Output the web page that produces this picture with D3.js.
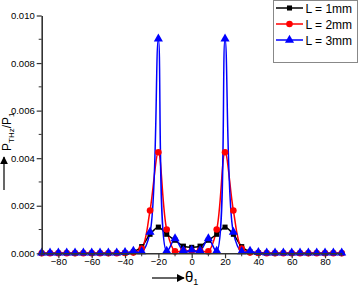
<!DOCTYPE html>
<html>
<head>
<meta charset="utf-8">
<script src="https://cdn.jsdelivr.net/npm/d3@7"></script>
<style>
  body { margin: 0; background: #fff; }
  svg { display: block; font-family: "Liberation Sans", Arial, sans-serif; }
</style>
</head>
<body>
<svg id="chart" width="358" height="288"></svg>
<script>
// Angulos (grados) cada 5
const angulos = [-90, -85, -80, -75, -70, -65, -60, -55, -50, -45, -40, -35, -30, -25, -20, -15, -10, -5, 0,
                 5, 10, 15, 20, 25, 30, 35, 40, 45, 50, 55, 60, 65, 70, 75, 80, 85, 90];

// P_THz/P_1 para cada longitud
const serieL1 = [0, 0, 0, 0, 0, 0, 0, 0, 0, 0, 0.00002, 0.00006, 0.00028, 0.0008, 0.0011, 0.0008, 0.00055, 0.0003, 0.00025,
                 0.0003, 0.00055, 0.0008, 0.0011, 0.0008, 0.00028, 0.00006, 0.00002, 0, 0, 0, 0, 0, 0, 0, 0, 0, 0];
const serieL2 = [0, 0, 0, 0, 0, 0, 0, 0, 0, 0, 0.00001, 0.00003, 0.0002, 0.0018, 0.00425, 0.001, 0.00008, 0.00012, 0.0001,
                 0.00012, 0.00008, 0.001, 0.00425, 0.0018, 0.0002, 0.00003, 0.00001, 0, 0, 0, 0, 0, 0, 0, 0, 0, 0];
const serieL3 = [0, 0, 0, 0, 0, 0, 0, 0, 0, 0, 0.00002, 0.00008, 0.00005, 0.00087, 0.009, 0.00008, 0.0006, 0.0001, 0.00012,
                 0.0001, 0.0006, 0.00008, 0.009, 0.00087, 0.00005, 0.00008, 0.00002, 0, 0, 0, 0, 0, 0, 0, 0, 0, 0];

const nombresSeries = ['L = 1mm', 'L = 2mm', 'L = 3mm'];
const coloresSeries = ['#000000', '#ff0000', '#0000ff'];
const simbolosSeries = [d3.symbolSquare, d3.symbolCircle, d3.symbolTriangle];

// Ticks
const ticksX = [-80, -60, -40, -20, 0, 20, 40, 60, 80];
const ticksXMenores = [-90, -70, -50, -30, -10, 10, 30, 50, 70, 90];
const ticksY = [0, 0.002, 0.004, 0.006, 0.008, 0.010];
const ticksYMenores = [0.001, 0.003, 0.005, 0.007, 0.009];

const svg = d3.select("#chart");

const x = d3.scaleLinear().domain([-90, 90]).range([41.7, 341.7]);
const y = d3.scaleLinear().domain([0, 0.010]).range([253.3, 15.5]);

// clip del area de graficos
svg.append("defs").append("clipPath").attr("id", "clip")
  .append("rect")
  .attr("x", x(-90)).attr("y", 0)
  .attr("width", x(90) - x(-90) + 6).attr("height", y(0));

const series = [serieL1, serieL2, serieL3];

const linea = d3.line()
  .x((d, i) => x(angulos[i]))
  .y(d => y(d))
  .curve(d3.curveCatmullRom.alpha(0.5));

const gSeries = svg.append("g").attr("clip-path", "url(#clip)");

series.forEach((valores, s) => {
  gSeries.append("path")
    .datum(valores)
    .attr("fill", "none")
    .attr("stroke", coloresSeries[s])
    .attr("stroke-width", 1.5)
    .attr("d", linea);
});

series.forEach((valores, s) => {
  const tam = s === 2 ? 36 : (s === 1 ? 34 : 26);
  svg.append("g")
    .selectAll("path")
    .data(valores)
    .join("path")
    .attr("transform", (d, i) => `translate(${x(angulos[i])},${y(d) + (s === 2 ? -0.5 : 0)})`)
    .attr("d", d3.symbol().type(simbolosSeries[s]).size(tam))
    .attr("fill", coloresSeries[s]);
});

// Ejes
const ejeX = svg.append("g")
  .attr("transform", `translate(0,${y(0)})`)
  .call(d3.axisBottom(x).tickValues(ticksX).tickFormat(d3.format("d")).tickSize(5).tickSizeOuter(0));
ejeX.append("g")
  .selectAll("line")
  .data(ticksXMenores)
  .join("line")
  .attr("x1", d => x(d)).attr("x2", d => x(d))
  .attr("y1", 0).attr("y2", 3)
  .attr("stroke", "#333");

const ejeY = svg.append("g")
  .attr("transform", `translate(${x(-90)},0)`)
  .call(d3.axisLeft(y).tickValues(ticksY).tickFormat(d3.format(".3f")).tickSize(5).tickSizeOuter(0));
ejeY.append("g")
  .selectAll("line")
  .data(ticksYMenores)
  .join("line")
  .attr("y1", d => y(d)).attr("y2", d => y(d))
  .attr("x1", 0).attr("x2", -3)
  .attr("stroke", "#333");

[ejeX, ejeY].forEach(g => {
  g.select(".domain").attr("stroke", "#333").attr("stroke-width", 1.6);
  g.selectAll(".tick line").attr("stroke", "#333").attr("stroke-width", 1.2);
  g.selectAll(".tick text").attr("font-size", "9.5px").attr("fill", "#000")
    .attr("font-family", "'Liberation Sans', Arial, sans-serif");
});
ejeX.selectAll(".tick text").attr("dy", "0.4em").attr("y", 8);
ejeY.selectAll(".tick text").attr("x", -7);

// Flechas de etiquetas
svg.append("defs").append("marker")
  .attr("id", "flecha")
  .attr("viewBox", "0 0 10 10")
  .attr("refX", 9).attr("refY", 5)
  .attr("markerWidth", 8).attr("markerHeight", 8)
  .attr("markerUnits", "userSpaceOnUse")
  .attr("orient", "auto")
  .append("path").attr("d", "M0,0L10,5L0,10Z").attr("fill", "#000");

svg.append("line")
  .attr("x1", 152).attr("y1", 278).attr("x2", 184).attr("y2", 278)
  .attr("stroke", "#000").attr("stroke-width", 1.2)
  .attr("marker-end", "url(#flecha)");
const etiquetaX = svg.append("text").attr("x", 185).attr("y", 282).attr("font-size", "15px");
etiquetaX.append("tspan").text("θ");
etiquetaX.append("tspan").attr("font-size", "9px").attr("dy", 3).text("1");

svg.append("line")
  .attr("x1", 4).attr("y1", 190).attr("x2", 4).attr("y2", 157)
  .attr("stroke", "#000").attr("stroke-width", 1.2)
  .attr("marker-end", "url(#flecha)");
const etiquetaY = svg.append("text")
  .attr("transform", "translate(11,151) rotate(-90)")
  .attr("font-size", "12px");
etiquetaY.append("tspan").text("P");
etiquetaY.append("tspan").attr("font-size", "8px").attr("dy", 3).text("THz");
etiquetaY.append("tspan").attr("dy", -3).text("/P");
etiquetaY.append("tspan").attr("font-size", "8px").attr("dy", 3).text("1");

// Leyenda
const leyenda = svg.append("g");
leyenda.append("rect")
  .attr("x", 273.5).attr("y", 0.5).attr("width", 84).attr("height", 62)
  .attr("fill", "#fff").attr("stroke", "#888").attr("stroke-width", 1);

nombresSeries.forEach((nombre, s) => {
  const yy = 8 + s * 16;
  leyenda.append("line")
    .attr("x1", 276).attr("x2", 303).attr("y1", yy).attr("y2", yy)
    .attr("stroke", coloresSeries[s]).attr("stroke-width", 1.5);
  leyenda.append("path")
    .attr("transform", `translate(289.5,${yy})`)
    .attr("d", d3.symbol().type(simbolosSeries[s]).size(s === 2 ? 36 : (s === 1 ? 34 : 26)))
    .attr("fill", coloresSeries[s]);
  leyenda.append("text")
    .attr("x", 305.5).attr("y", yy + 4.5)
    .attr("font-size", "12px")
    .text(nombre);
});
</script>
</body>
</html>
